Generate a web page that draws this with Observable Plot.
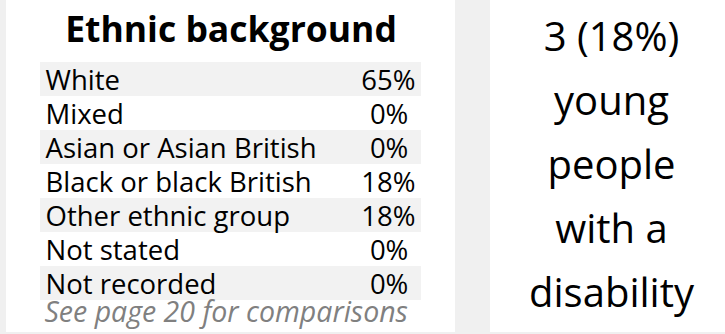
<!DOCTYPE html>
<html>
<head>
<meta charset="utf-8">
<script src="https://cdn.jsdelivr.net/npm/d3@7"></script>
<script src="https://cdn.jsdelivr.net/npm/@observablehq/plot@0.6"></script>
<style>
  html, body { margin: 0; padding: 0; background: #fff; }
  #wrap { position: relative; width: 725px; height: 334px; overflow: hidden; background: #fff; font-family: "Open Sans", sans-serif; }
  .strip { position: absolute; background: #f0f0f0; }
  #left, #right { position: absolute; top: 0; }
  #left { left: 0; }
  #right { left: 490px; }
</style>
</head>
<body>
<div id="wrap">
  <div class="strip" style="left:0;top:0;width:6px;height:332px"></div>
  <div class="strip" style="left:455px;top:0;width:35px;height:332px"></div>
  <div class="strip" style="left:0;top:332px;width:725px;height:2px"></div>
  <div id="left"></div>
  <div id="right"></div>
</div>
<script>
const title = "Ethnic background";
const categories = ["White", "Mixed", "Asian or Asian British", "Black or black British", "Other ethnic group", "Not stated", "Not recorded"];
const percents = [65, 0, 0, 18, 18, 0, 0];
const footnote = "See page 20 for comparisons";
const disabilityCount = 3;
const disabilityPct = 18;
const disabilityWords = ["young", "people", "with a", "disability"];

const rows = categories.map((name, i) => ({name, pct: percents[i], shaded: i % 2 === 0}));
const FONT = "Open Sans, sans-serif";

const left = Plot.plot({
  width: 455,
  height: 334,
  marginLeft: 40,
  marginRight: 34,
  marginTop: 62,
  marginBottom: 34,
  style: {fontFamily: FONT, background: "transparent", overflow: "visible"},
  x: {axis: null},
  y: {type: "band", domain: categories, padding: 0, axis: null},
  marks: [
    Plot.cell(rows.filter(d => d.shaded), {y: "name", fill: "#f2f2f2"}),
    Plot.text(rows, {y: "name", text: "name", frameAnchor: "left", textAnchor: "start", dx: 5, dy: 1.5, fontSize: 27.5, fill: "#000"}),
    Plot.text(rows, {y: "name", text: d => d.pct + "%" + (d.pct < 10 ? "\u00a0" : ""), frameAnchor: "right", textAnchor: "end", dx: -6, dy: 1.5, fontSize: 27.5, fill: "#000"}),
    Plot.text([title], {frameAnchor: "top", lineAnchor: "bottom", dy: -20.3, dx: 0, fontSize: 35.5, fontWeight: "bold", fill: "#000"}),
    Plot.text([footnote], {frameAnchor: "bottom-left", lineAnchor: "bottom", textAnchor: "start", dx: 4, dy: 21.5, fontSize: 28.5, fontStyle: "italic", fill: "#808080"})
  ]
});
document.getElementById("left").appendChild(left);

const lines = [`${disabilityCount} (${disabilityPct}%)`, ...disabilityWords];
const right = Plot.plot({
  width: 235,
  height: 334,
  marginLeft: 0,
  marginRight: 0,
  marginTop: 50,
  marginBottom: 28,
  style: {fontFamily: FONT, background: "transparent", overflow: "visible"},
  x: {axis: null},
  y: {type: "point", domain: lines, padding: 0, axis: null},
  marks: [
    Plot.text(lines, {y: d => d, text: d => d, frameAnchor: "middle", lineAnchor: "bottom", dx: 3.5, fontSize: 40, fill: "#000"})
  ]
});
document.getElementById("right").appendChild(right);
</script>
</body>
</html>
